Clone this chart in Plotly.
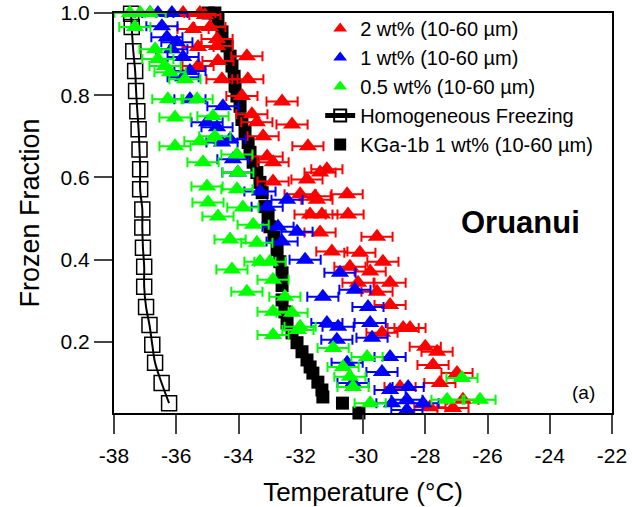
import plotly.graph_objects as go

# ---------------- data ----------------
red_x = [-35.78, -35.24, -35.08, -35.46, -34.92, -34.69, -35.30, -34.69, -33.73, -35.30,
         -34.66, -34.53, -33.70, -33.89, -32.60, -33.57, -33.41, -32.28, -33.21, -31.77,
         -33.08, -32.89, -31.38, -31.80, -32.89, -32.02, -31.48, -31.16, -30.51, -31.54,
         -31.70, -31.32, -30.48, -29.55, -31.38, -31.00, -30.10, -29.36, -30.42, -29.77,
         -29.13, -30.16, -29.55, -29.13, -28.71, -28.49, -29.39, -28.00, -27.62, -27.75,
         -26.98, -27.53, -28.81, -26.79, -27.11, -27.85]
red_y = [1.0, 1.0, 0.995, 0.961, 0.966, 0.937, 0.917, 0.920, 0.895, 0.871,
         0.883, 0.839, 0.839, 0.798, 0.785, 0.754, 0.734, 0.729, 0.700, 0.676,
         0.651, 0.637, 0.612, 0.595, 0.590, 0.559, 0.546, 0.620, 0.559, 0.554,
         0.510, 0.510, 0.510, 0.456, 0.466, 0.420, 0.417, 0.395, 0.383, 0.371,
         0.344, 0.344, 0.322, 0.290, 0.234, 0.234, 0.222, 0.188, 0.176, 0.144,
         0.124, 0.100, 0.090, 0.059, 0.039, 0.041]

blue_x = [-36.84, -36.59, -36.14, -36.46, -36.30, -35.98, -36.14, -35.78, -35.78, -35.56,
          -35.56, -34.50, -35.01, -34.69, -34.27, -34.53, -34.18, -34.02, -33.31, -32.44,
          -33.08, -32.73, -32.12, -32.60, -31.86, -30.74, -30.26, -31.29, -29.84, -31.16,
          -30.80, -29.77, -29.71, -30.84, -29.13, -30.51, -29.39, -30.32, -29.13, -28.55,
          -28.59, -28.07, -28.59, -29.07]
blue_y = [1.0, 1.0, 1.0, 0.968, 0.941, 0.929, 0.912, 0.893, 0.844, 0.859,
          0.790, 0.773, 0.734, 0.722, 0.693, 0.685, 0.644, 0.612, 0.566, 0.546,
          0.529, 0.480, 0.468, 0.444, 0.400, 0.368, 0.327, 0.310, 0.285, 0.246,
          0.237, 0.246, 0.210, 0.205, 0.163, 0.149, 0.127, 0.100, 0.083, 0.090,
          0.059, 0.051, 0.034, 0.051]

green_x = [-37.49, -37.16, -36.84, -37.33, -36.68, -36.59, -36.36, -36.20, -35.72, -36.27,
           -35.33, -36.04, -34.82, -34.76, -35.24, -36.04, -34.05, -35.14, -34.02, -35.01,
           -34.05, -34.98, -33.86, -34.66, -33.53, -34.27, -33.41, -34.21, -33.31, -32.99,
           -33.73, -32.89, -32.51, -32.89, -32.28, -32.89, -32.09, -32.02, -30.96, -29.87,
           -30.64, -30.42, -30.32, -29.77, -27.30, -26.24, -26.82]
green_y = [1.0, 1.0, 1.0, 0.966, 0.912, 0.888, 0.871, 0.856, 0.839, 0.790,
           0.790, 0.746, 0.749, 0.700, 0.688, 0.676, 0.656, 0.637, 0.612, 0.578,
           0.571, 0.539, 0.527, 0.505, 0.485, 0.449, 0.441, 0.376, 0.395, 0.395,
           0.322, 0.351, 0.310, 0.273, 0.271, 0.217, 0.229, 0.237, 0.185, 0.163,
           0.139, 0.115, 0.090, 0.051, 0.059, 0.059, 0.112]

temp_err = 0.5

homog_x = [-37.45, -37.43, -37.38, -37.32, -37.29, -37.25, -37.21, -37.18, -37.16, -37.16,
           -37.09, -37.09, -37.07, -37.03, -37.03, -36.97, -36.86, -36.77, -36.68, -36.47,
           -36.23]
homog_y = [0.998, 0.966, 0.907, 0.859, 0.810, 0.761, 0.717, 0.668, 0.620, 0.571,
           0.522, 0.478, 0.429, 0.383, 0.334, 0.285, 0.241, 0.193, 0.149, 0.100,
           0.051]

kga_x = [-34.98, -34.76, -34.66, -34.53, -34.37, -34.27, -34.21, -34.14, -34.11, -34.05,
         -33.95, -33.89, -33.79, -33.69, -33.63, -33.53, -33.41, -33.31, -33.24, -33.15,
         -33.05, -32.99, -32.86, -32.76, -32.67, -32.60, -32.60, -32.60, -32.51, -32.44,
         -32.28, -32.12, -31.96, -31.80, -31.70, -31.61, -31.45, -31.32, -31.29, -30.66,
         -30.13]
kga_y = [1.0, 1.0, 0.985, 0.954, 0.920, 0.895, 0.871, 0.846, 0.822, 0.798,
         0.773, 0.741, 0.710, 0.685, 0.661, 0.637, 0.612, 0.588, 0.563, 0.529,
         0.505, 0.480, 0.454, 0.424, 0.395, 0.368, 0.337, 0.302, 0.273, 0.246,
         0.222, 0.198, 0.176, 0.156, 0.139, 0.124, 0.102, 0.083, 0.066, 0.051,
         0.027]

x_ticks = [-38, -36, -34, -32, -30, -28, -26, -24, -22]
x_tick_text = ["-38", "-36", "-34", "-32", "-30", "-28", "-26", "-24", "-22"]
y_ticks = [0.2, 0.4, 0.6, 0.8, 1.0]
y_tick_text = ["0.2", "0.4", "0.6", "0.8", "1.0"]

FONT = "Liberation Sans, Arial, sans-serif"

fig = go.Figure()

fig.add_trace(go.Scatter(
    x=kga_x, y=kga_y, mode="markers", name="KGa-1b 1 wt% (10-60 µm)",
    marker=dict(symbol="square", size=13, color="black"),
    cliponaxis=False, legendrank=5))

fig.add_trace(go.Scatter(
    x=homog_x, y=homog_y, mode="lines+markers", name="Homogeneous Freezing",
    line=dict(color="black", width=2, shape="spline"),
    marker=dict(symbol="square-open", size=15, color="black", line=dict(width=1.5)),
    cliponaxis=False, legendrank=4))

for xs, ys, col, nm, rk in [
    (red_x, red_y, "#FF0000", "2 wt% (10-60 µm)", 1),
    (blue_x, blue_y, "#0000FF", "1 wt% (10-60 µm)", 2),
    (green_x, green_y, "#00FF00", "0.5 wt% (10-60 µm)", 3),
]:
    fig.add_trace(go.Scatter(
        x=xs, y=ys, mode="markers", name=nm,
        marker=dict(symbol="triangle-up", size=16, color=col),
        error_x=dict(type="constant", value=temp_err, color=col, thickness=2, width=5),
        cliponaxis=False, legendrank=rk))

fig.update_layout(
    width=632, height=507,
    margin=dict(l=114, r=20, t=13, b=94, autoexpand=False),
    paper_bgcolor="white", plot_bgcolor="white",
    font=dict(family=FONT, size=21, color="black"),
    showlegend=True,
    legend=dict(x=0.414, y=1.01, xanchor="left", yanchor="top",
                bgcolor="rgba(0,0,0,0)", font=dict(size=20, family=FONT),
                traceorder="normal", itemsizing="constant", tracegroupgap=0),
    xaxis=dict(range=[-38, -22], tickvals=x_ticks, ticktext=x_tick_text,
               ticks="outside", ticklen=19, tickwidth=2, showline=True, linewidth=2,
               linecolor="black", mirror=True, showgrid=False, zeroline=False,
               automargin=False, ticklabelstandoff=4, ticklabeloverflow="allow",
               title=dict(text="Temperature (°C)", font=dict(size=26), standoff=17),
               tickfont=dict(size=21)),
    yaxis=dict(range=[0.027, 1.0], tickvals=y_ticks, ticktext=y_tick_text,
               ticks="outside", ticklen=18, tickwidth=2, showline=True, linewidth=2,
               linecolor="black", mirror=True, showgrid=False, zeroline=False,
               automargin=False, ticklabeloverflow="allow",
               title=dict(text="Frozen Fraction", font=dict(size=27), standoff=13),
               tickfont=dict(size=21)),
    annotations=[
        dict(text="<b>Oruanui</b>", x=0.817, y=0.4775, xref="paper", yref="paper",
             xanchor="center", yanchor="middle",
             showarrow=False, font=dict(size=31, family=FONT)),
        dict(text="(a)", x=0.942, y=0.0525, xref="paper", yref="paper",
             xanchor="center", yanchor="middle",
             showarrow=False, font=dict(size=19, family=FONT)),
    ],
)

# remove the browser's default 8 px page margin so the 632x507 figure fills the window
fig.write_html("out.html", config={"displayModeBar": False},
               post_script="document.body.style.margin='0';")
